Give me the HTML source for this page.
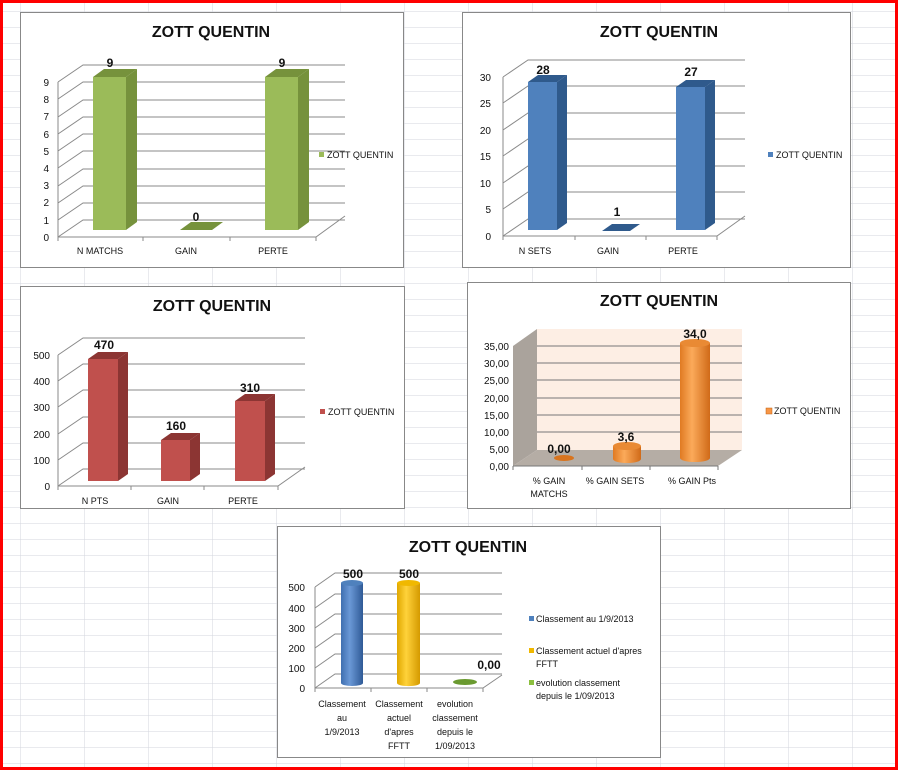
<!DOCTYPE html>
<html><head><meta charset="utf-8"><style>
html,body{margin:0;padding:0;background:#fff}
svg{display:block}
text{font-family:"Liberation Sans",sans-serif}
.ax{font-size:10px;fill:#111}
.cat{font-size:9px;fill:#111}
.val{font-size:12px;font-weight:bold;fill:#111}
.ttl{font-size:16px;font-weight:bold;fill:#111}
.lg{font-size:9px;fill:#111}
.g{stroke:#8a8a8a;stroke-width:1;fill:none}
</style></head><body>
<svg width="898" height="770" viewBox="0 0 898 770" xmlns="http://www.w3.org/2000/svg">
<defs>
<pattern id="grid" x="20" y="11" width="64" height="16" patternUnits="userSpaceOnUse">
<path d="M0 0V16M0 0H64" stroke="#d3d6dd" stroke-width="1" fill="none"/>
</pattern>
<linearGradient id="cb" x1="0" x2="1"><stop offset="0" stop-color="#3f6fb0"/><stop offset="0.4" stop-color="#6a98d6"/><stop offset="1" stop-color="#2f5a96"/></linearGradient>
<linearGradient id="cy" x1="0" x2="1"><stop offset="0" stop-color="#e0a800"/><stop offset="0.4" stop-color="#ffd23a"/><stop offset="1" stop-color="#d49a00"/></linearGradient>
<linearGradient id="co" x1="0" x2="1"><stop offset="0" stop-color="#e07a22"/><stop offset="0.4" stop-color="#fbaa5a"/><stop offset="1" stop-color="#d06a18"/></linearGradient>
</defs>
<rect width="898" height="770" fill="#fff"/>
<rect width="898" height="770" fill="url(#grid)"/>

<!-- Chart 1 -->
<rect x="20.5" y="12.5" width="383" height="255" fill="#fff" stroke="#888"/>
<text class="ttl" x="211" y="37" text-anchor="middle">ZOTT QUENTIN</text>
<g class="g">
<path d="M58 237L83 220H345M58 237V82"/>
<path d="M58 220L83 203H345M58 203L83 186H345M58 186L83 169H345M58 168L83 151H345M58 151L83 134H345M58 134L83 117H345M58 117L83 100H345M58 99L83 82H345M58 82L83 65H345"/>
<path d="M58 237H316L345 216M58 237v4M143 237v4M230 237v4M316 237v4"/>
</g>
<g class="ax" text-anchor="end"><text x="49" y="241">0</text><text x="49" y="224">1</text><text x="49" y="206">2</text><text x="49" y="189">3</text><text x="49" y="172">4</text><text x="49" y="155">5</text><text x="49" y="138">6</text><text x="49" y="120">7</text><text x="49" y="103">8</text><text x="49" y="86">9</text></g>
<g fill="#9bbb59"><rect x="93" y="77" width="33" height="153"/><rect x="265" y="77" width="33" height="153"/></g>
<g fill="#76923c"><path d="M126 77L137 69V222L126 230Z"/><path d="M298 77L309 69V222L298 230Z"/><path d="M93 77L104 69H137L126 77Z"/><path d="M265 77L276 69H309L298 77Z"/><path d="M180 230L191 222H223L212 230Z"/></g>
<g class="val" text-anchor="middle"><text x="110" y="67">9</text><text x="196" y="221">0</text><text x="282" y="67">9</text></g>
<g class="cat" text-anchor="middle"><text x="100" y="254">N MATCHS</text><text x="186" y="254">GAIN</text><text x="273" y="254">PERTE</text></g>
<rect x="319" y="152" width="5" height="5" fill="#9bbb59"/><text class="lg" x="327" y="158">ZOTT QUENTIN</text>

<!-- Chart 2 -->
<rect x="462.5" y="12.5" width="388" height="255" fill="#fff" stroke="#888"/>
<text class="ttl" x="659" y="37" text-anchor="middle">ZOTT QUENTIN</text>
<g class="g">
<path d="M503 236L528 219H745M503 236V77"/>
<path d="M503 209L528 192H745M503 183L528 166H745M503 156L528 139H745M503 130L528 113H745M503 103L528 86H745M503 77L528 60H745"/>
<path d="M503 236H717L745 216M503 236v4M575 236v4M646 236v4M717 236v4"/>
</g>
<g class="ax" text-anchor="end"><text x="491" y="240">0</text><text x="491" y="213">5</text><text x="491" y="187">10</text><text x="491" y="160">15</text><text x="491" y="134">20</text><text x="491" y="107">25</text><text x="491" y="81">30</text></g>
<g fill="#4f81bd"><rect x="528" y="82" width="29" height="148"/><rect x="676" y="87" width="29" height="143"/></g>
<g fill="#2f5a8c"><path d="M557 82L567 75V223L557 230Z"/><path d="M705 87L715 80V223L705 230Z"/><path d="M528 82L538 75H567L557 82Z"/><path d="M676 87L686 80H715L705 87Z"/><path d="M602 231L612 224H640L630 231Z"/></g>
<g class="val" text-anchor="middle"><text x="543" y="74">28</text><text x="617" y="216">1</text><text x="691" y="76">27</text></g>
<g class="cat" text-anchor="middle"><text x="535" y="254">N SETS</text><text x="608" y="254">GAIN</text><text x="683" y="254">PERTE</text></g>
<rect x="768" y="152" width="5" height="5" fill="#4f81bd"/><text class="lg" x="776" y="158">ZOTT QUENTIN</text>

<!-- Chart 3 -->
<rect x="20.5" y="286.5" width="384" height="222" fill="#fff" stroke="#888"/>
<text class="ttl" x="212" y="311" text-anchor="middle">ZOTT QUENTIN</text>
<g class="g">
<path d="M58 486L83 469H305M58 486V355"/>
<path d="M58 460L83 443H305M58 434L83 417H305M58 407L83 390H305M58 381L83 364H305M58 355L83 338H305"/>
<path d="M58 486H278L305 467M58 486v4M131 486v4M204 486v4M278 486v4"/>
</g>
<g class="ax" text-anchor="end"><text x="50" y="490">0</text><text x="50" y="464">100</text><text x="50" y="438">200</text><text x="50" y="411">300</text><text x="50" y="385">400</text><text x="50" y="359">500</text></g>
<g fill="#c0504d"><rect x="88" y="359" width="30" height="122"/><rect x="161" y="440" width="29" height="41"/><rect x="235" y="401" width="30" height="80"/></g>
<g fill="#8c3533"><path d="M118 359L128 352V474L118 481Z"/><path d="M190 440L200 433V474L190 481Z"/><path d="M265 401L275 394V474L265 481Z"/><path d="M88 359L98 352H128L118 359Z"/><path d="M161 440L171 433H200L190 440Z"/><path d="M235 401L245 394H275L265 401Z"/></g>
<g class="val" text-anchor="middle"><text x="104" y="349">470</text><text x="176" y="430">160</text><text x="250" y="392">310</text></g>
<g class="cat" text-anchor="middle"><text x="95" y="504">N PTS</text><text x="168" y="504">GAIN</text><text x="243" y="504">PERTE</text></g>
<rect x="320" y="409" width="5" height="5" fill="#c0504d"/><text class="lg" x="328" y="415">ZOTT QUENTIN</text>

<!-- Chart 4 -->
<rect x="467.5" y="282.5" width="383" height="226" fill="#fff" stroke="#888"/>
<text class="ttl" x="659" y="306" text-anchor="middle">ZOTT QUENTIN</text>
<path d="M537 329H742V450H537Z" fill="#fdeee4"/>
<path d="M513 346L537 329V450L513 466Z" fill="#aaa39c"/>
<path d="M513 466L537 450H742L718 466Z" fill="#b5ada5"/>
<g stroke="#777" fill="none"><path d="M537 346H742M537 363H742M537 380H742M537 398H742M537 415H742M537 432H742"/><path d="M513 466H718M513 466v4M582 466v4M650 466v4M718 466v4"/></g>
<g class="ax" text-anchor="end"><text x="509" y="350">35,00</text><text x="509" y="367">30,00</text><text x="509" y="384">25,00</text><text x="509" y="402">20,00</text><text x="509" y="419">15,00</text><text x="509" y="436">10,00</text><text x="509" y="453">5,00</text><text x="509" y="470">0,00</text></g>
<ellipse cx="564" cy="458" rx="10" ry="3" fill="#d8741e"/>
<path d="M613 446V459A14 4 0 0 0 641 459V446Z" fill="url(#co)"/><ellipse cx="627" cy="446" rx="14" ry="4" fill="#e98a34"/>
<path d="M680 343V458A15 4 0 0 0 710 458V343Z" fill="url(#co)"/><ellipse cx="695" cy="343" rx="15" ry="4" fill="#e98a34"/>
<g class="val" text-anchor="middle"><text x="559" y="453">0,00</text><text x="626" y="441">3,6</text><text x="695" y="338">34,0</text></g>
<g class="cat" text-anchor="middle"><text x="549" y="484">% GAIN</text><text x="549" y="497">MATCHS</text><text x="615" y="484">% GAIN SETS</text><text x="692" y="484">% GAIN Pts</text></g>
<rect x="766" y="408" width="6" height="6" fill="#f79646" stroke="#c06010" stroke-width="0.5"/><text class="lg" x="774" y="414">ZOTT QUENTIN</text>

<!-- Chart 5 -->
<rect x="277.5" y="526.5" width="383" height="231" fill="#fff" stroke="#888"/>
<text class="ttl" x="468" y="552" text-anchor="middle">ZOTT QUENTIN</text>
<g class="g">
<path d="M315 688L335 674H502M315 688V587"/>
<path d="M315 668L335 654H502M315 648L335 634H502M315 628L335 614H502M315 608L335 594H502M315 587L335 573H502"/>
<path d="M315 688H483L502 675M315 688v4M371 688v4M427 688v4M483 688v4"/>
</g>
<g class="ax" text-anchor="end"><text x="305" y="692">0</text><text x="305" y="672">100</text><text x="305" y="652">200</text><text x="305" y="632">300</text><text x="305" y="612">400</text><text x="305" y="591">500</text></g>
<path d="M341 583V683A11 3 0 0 0 363 683V583Z" fill="url(#cb)"/><ellipse cx="352" cy="583" rx="11" ry="3" fill="#4f81bd"/>
<path d="M397 583V683A11 3 0 0 0 420 683V583Z" fill="url(#cy)"/><ellipse cx="408.5" cy="583" rx="11.5" ry="3" fill="#f0b800"/>
<ellipse cx="465" cy="682" rx="12" ry="3" fill="#6a9a30"/>
<g class="val" text-anchor="middle"><text x="353" y="578">500</text><text x="409" y="578">500</text><text x="489" y="669">0,00</text></g>
<g class="cat" text-anchor="middle">
<text x="342" y="707">Classement</text><text x="342" y="721">au</text><text x="342" y="735">1/9/2013</text>
<text x="399" y="707">Classement</text><text x="399" y="721">actuel</text><text x="399" y="735">d'apres</text><text x="399" y="749">FFTT</text>
<text x="455" y="707">evolution</text><text x="455" y="721">classement</text><text x="455" y="735">depuis le</text><text x="455" y="749">1/09/2013</text>
</g>
<rect x="529" y="616" width="5" height="5" fill="#4f81bd"/><text class="lg" x="536" y="622">Classement au 1/9/2013</text>
<rect x="529" y="648" width="5" height="5" fill="#f0b800"/><text class="lg" x="536" y="654">Classement actuel d'apres</text><text class="lg" x="536" y="667">FFTT</text>
<rect x="529" y="680" width="5" height="5" fill="#8cbf3f"/><text class="lg" x="536" y="686">evolution classement</text><text class="lg" x="536" y="699">depuis le 1/09/2013</text>

<!-- red border -->
<rect x="1.5" y="1.5" width="895" height="767" fill="none" stroke="#f00" stroke-width="3"/>
</svg>
</body></html>
